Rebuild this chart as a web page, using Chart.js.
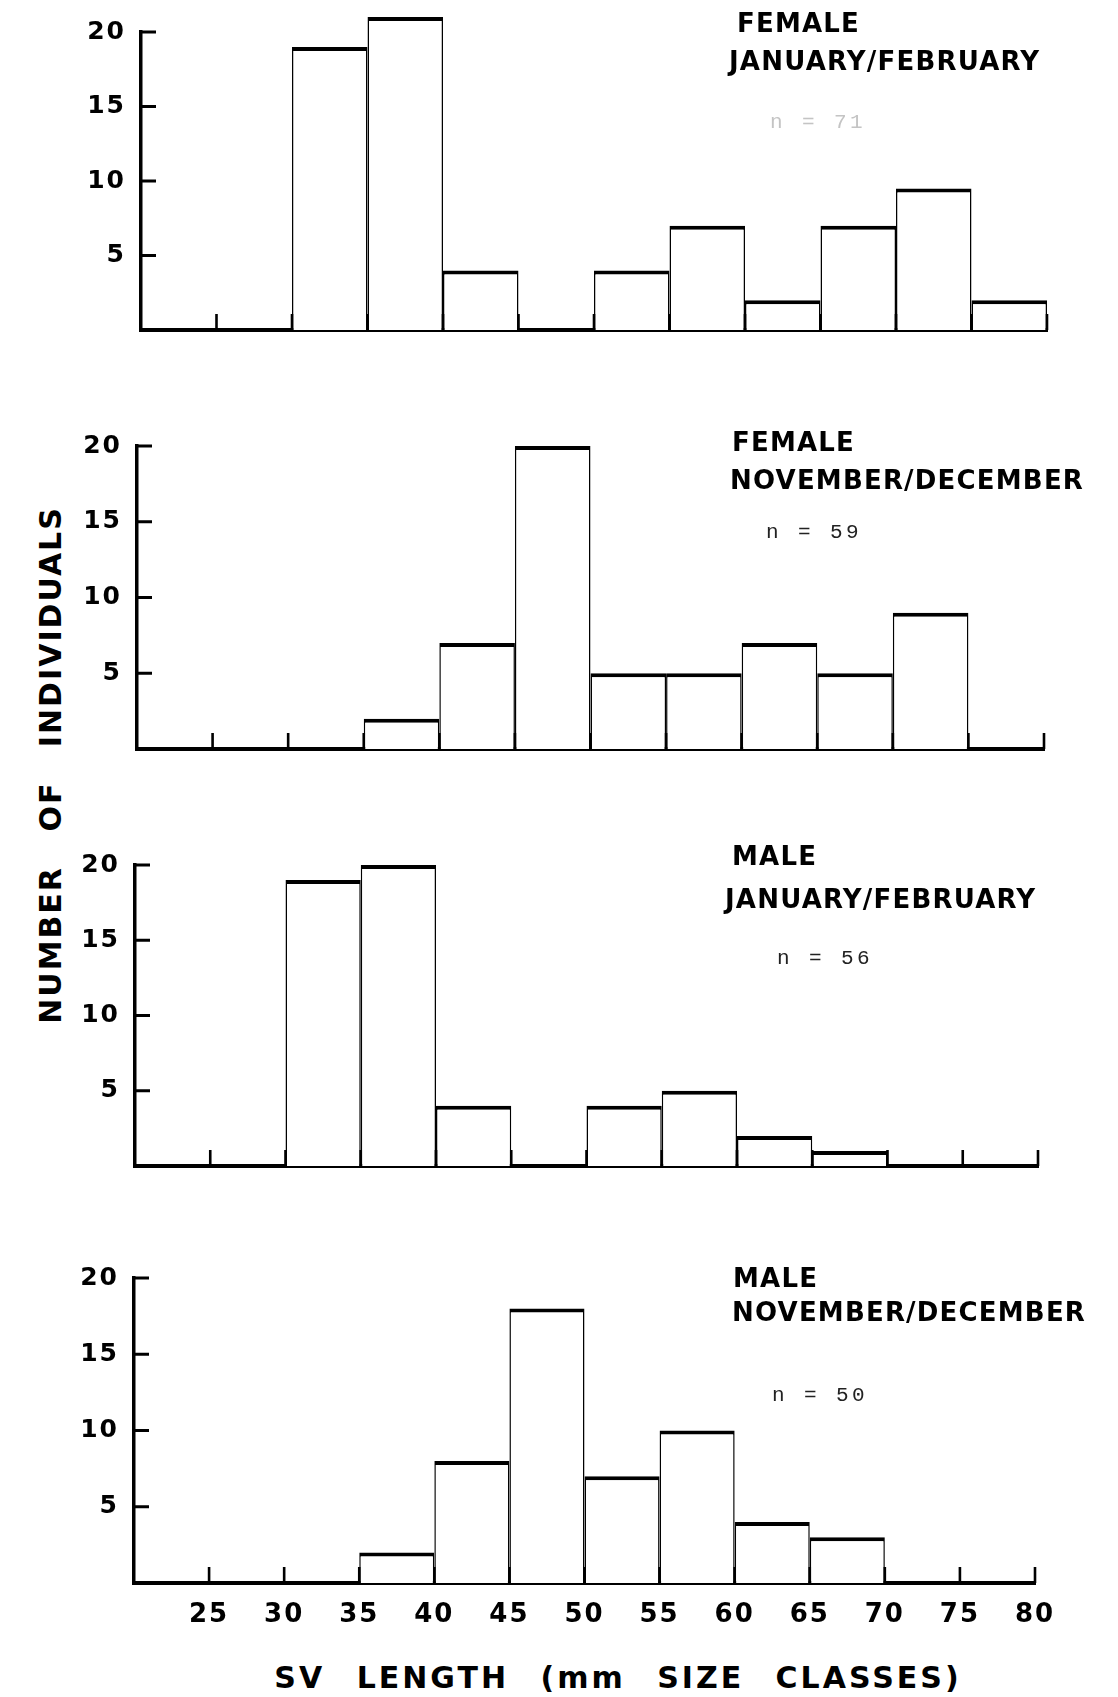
<!DOCTYPE html>
<html>
<head>
<meta charset="utf-8">
<title>SV length size classes by sex and season</title>
<script src="https://cdn.jsdelivr.net/npm/chart.js@4.4.1/dist/chart.umd.min.js"></script>
<style>
  html, body { margin: 0; padding: 0; background: #fff; }
  #page { position: relative; width: 1118px; height: 1697px; overflow: hidden; background: #fff; }
  #page canvas { position: absolute; left: 0; }
  .title { position: absolute; font-family: 'DejaVu Sans', sans-serif; font-weight: bold; font-size: 26px;
           line-height: 26px; letter-spacing: 1.2px; white-space: nowrap; color: #000; }
  .count { position: absolute; font-family: 'Liberation Mono', monospace; font-size: 21px; line-height: 21px;
           letter-spacing: 3.4px; white-space: nowrap; color: #222; }
  .count.faint { color: #c4c4c4; }
  #ytitle { position: absolute; left: 51px; top: 765px; transform: translate(-50%, -50%) rotate(-90deg);
            font-family: 'DejaVu Sans', sans-serif; font-weight: bold; font-size: 30px; line-height: 30px;
            letter-spacing: 2px; word-spacing: 22px; white-space: nowrap; color: #000; }
  #xtitle { position: absolute; left: 618px; top: 1663px; transform: translateX(-50%);
            font-family: 'DejaVu Sans', sans-serif; font-weight: bold; font-size: 30px; line-height: 30px;
            letter-spacing: 3px; word-spacing: 18px; white-space: nowrap; color: #000; }
</style>
</head>
<body>
<div id="page">
  <div id="ytitle">NUMBER OF INDIVIDUALS</div>
  <div id="xtitle">SV LENGTH (mm SIZE CLASSES)</div>
</div>
<script>
// Lower edges of the 5 mm snout-vent length classes
const binStarts = [20, 25, 30, 35, 40, 45, 50, 55, 60, 65, 70, 75];
const binWidth = 5;

// Number of individuals in each size class
const femaleJanFeb = [0, 0, 19, 21, 4, 0, 4, 7, 2, 7, 9.5, 2];
const femaleNovDec = [0, 0, 0, 2, 7, 20, 5, 5, 7, 5, 9, 0];
const maleJanFeb   = [0, 0, 19, 20, 4, 0, 4, 5, 2, 1, 0, 0];
const maleNovDec   = [0, 0, 0, 2, 8, 18, 7, 10, 4, 3, 0, 0];

const sexLabels    = ['FEMALE', 'FEMALE', 'MALE', 'MALE'];
const periodLabels = ['JANUARY/FEBRUARY', 'NOVEMBER/DECEMBER', 'JANUARY/FEBRUARY', 'NOVEMBER/DECEMBER'];
const sampleSizes  = [71, 59, 56, 50];

// Axis tick values
const xTickValues = [25, 30, 35, 40, 45, 50, 55, 60, 65, 70, 75, 80];
const yTickValues = [5, 10, 15, 20];

// Page layout of the four stacked panels (pixels)
const panels = [
  { series: femaleJanFeb, band: [0, 380],     left: 141, right: 1047, top: 32,   base: 330,
    sex: [737, 10], period: [729, 48], n: [770, 112], faint: true },
  { series: femaleNovDec, band: [380, 800],   left: 137, right: 1044, top: 446,  base: 749,
    sex: [732, 429], period: [730, 467], n: [766, 522] },
  { series: maleJanFeb,   band: [800, 1210],  left: 135, right: 1038, top: 865,  base: 1166,
    sex: [732, 843], period: [725, 886], n: [777, 948] },
  { series: maleNovDec,   band: [1210, 1697], left: 134, right: 1035, top: 1278, base: 1583,
    sex: [733, 1265], period: [732, 1299], n: [772, 1385], xLabels: true }
];

// Short inward tick marks on both axes, placed through the chart's scales
const inwardTicks = {
  id: 'inwardTicks',
  beforeDraw(chart) {
    try { chart.ctx.letterSpacing = '2px'; } catch (e) {}
  },
  afterDraw(chart) {
    const { ctx, chartArea, scales } = chart;
    ctx.save();
    ctx.strokeStyle = '#000';
    ctx.lineCap = 'butt';
    ctx.lineWidth = 2.6;
    ctx.beginPath();
    xTickValues.forEach(v => {
      const px = scales.x.getPixelForValue(v);
      ctx.moveTo(px, chartArea.bottom);
      ctx.lineTo(px, chartArea.bottom - 16);
    });
    ctx.stroke();
    ctx.lineWidth = 3;
    ctx.beginPath();
    yTickValues.forEach(v => {
      const py = scales.y.getPixelForValue(v);
      ctx.moveTo(chartArea.left, py);
      ctx.lineTo(chartArea.left + 15, py);
    });
    ctx.stroke();
    ctx.restore();
  }
};

Chart.defaults.color = '#000';
Chart.defaults.font.family = "'DejaVu Sans', sans-serif";

const page = document.getElementById('page');

panels.forEach((p, i) => {
  const h = p.band[1] - p.band[0];
  const xAxisH = p.xLabels ? 70 : 10;
  const canvas = document.createElement('canvas');
  canvas.width = 1118;
  canvas.height = h;
  canvas.style.top = p.band[0] + 'px';
  canvas.style.width = '1118px';
  canvas.style.height = h + 'px';
  page.appendChild(canvas);

  const points = binStarts.map((s, k) => ({ x: s + binWidth / 2, y: p.series[k] }));

  new Chart(canvas, {
    type: 'bar',
    data: {
      datasets: [{
        data: points,
        backgroundColor: '#fff',
        borderColor: '#000',
        borderWidth: { top: 4, left: 1.5, right: 1.5, bottom: 0 },
        borderSkipped: 'start',
        barPercentage: 1,
        categoryPercentage: 1,
        inflateAmount: 0,
        clip: false
      }]
    },
    options: {
      responsive: false,
      animation: false,
      events: [],
      devicePixelRatio: 1,
      layout: {
        padding: {
          left: 0,
          right: 1118 - p.right,
          top: p.top - p.band[0],
          bottom: p.band[1] - p.base - xAxisH
        }
      },
      plugins: { legend: { display: false }, tooltip: { enabled: false } },
      scales: {
        x: {
          type: 'linear',
          min: 20,
          max: 80,
          offset: false,
          z: 1,
          grid: { display: false, offset: false, drawTicks: false },
          border: { display: true, color: '#000', width: 4 },
          ticks: {
            display: !!p.xLabels,
            stepSize: 5,
            autoSkip: false,
            maxRotation: 0,
            padding: 17,
            font: { size: 26, weight: 'bold' },
            callback: v => (v === 20 ? '' : String(v))
          },
          afterFit: s => { s.height = xAxisH; }
        },
        y: {
          min: 0,
          max: 20,
          z: 1,
          grid: { display: false, drawTicks: false },
          border: { display: true, color: '#000', width: 3.5 },
          ticks: {
            stepSize: 5,
            padding: 15,
            font: { size: 25, weight: 'bold' },
            callback: v => (v === 0 ? '' : String(v))
          },
          afterFit: s => { s.width = p.left; }
        }
      }
    },
    plugins: [inwardTicks]
  });

  const sex = document.createElement('div');
  sex.className = 'title';
  sex.style.left = p.sex[0] + 'px';
  sex.style.top = p.sex[1] + 'px';
  sex.textContent = sexLabels[i];
  page.appendChild(sex);

  const period = document.createElement('div');
  period.className = 'title';
  period.style.left = p.period[0] + 'px';
  period.style.top = p.period[1] + 'px';
  period.textContent = periodLabels[i];
  page.appendChild(period);

  const n = document.createElement('div');
  n.className = 'count' + (p.faint ? ' faint' : '');
  n.style.left = p.n[0] + 'px';
  n.style.top = p.n[1] + 'px';
  n.textContent = 'n = ' + sampleSizes[i];
  page.appendChild(n);
});
</script>
</body>
</html>
